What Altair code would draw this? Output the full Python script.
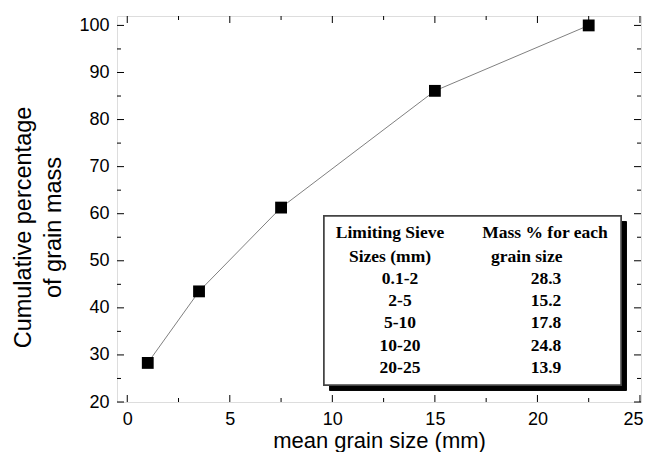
import altair as alt
import pandas as pd

# ---- data ----
mean_size = [1, 3.5, 7.5, 15, 22.5]
cumulative = [28.3, 43.5, 61.3, 86.1, 100.0]
sieve_ranges = ["0.1-2", "2-5", "5-10", "10-20", "20-25"]
mass_pct = ["28.3", "15.2", "17.8", "24.8", "13.9"]
x_major = [0, 5, 10, 15, 20, 25]
x_minor = [2.5, 7.5, 12.5, 17.5, 22.5]
y_major = [20, 30, 40, 50, 60, 70, 80, 90, 100]
y_minor = [25, 35, 45, 55, 65, 75, 85, 95]

# ---- layout ----
W, H = 524, 386
XDOM = [-0.5, 25.05]
YDOM = [20, 102]
MAJ, MIN = 7, 4
FONT = "Liberation Sans"
SERIF = "Liberation Serif"

xs = alt.Scale(domain=XDOM, nice=False, zero=False)
ys = alt.Scale(domain=YDOM, nice=False, zero=False)

pts = pd.DataFrame({"x": mean_size, "y": cumulative})

line = alt.Chart(pts).mark_line(color="#808080", strokeWidth=1).encode(
    x=alt.X("x:Q", scale=xs,
            axis=alt.Axis(values=x_major, ticks=False, domain=False, grid=False,
                          labelFont=FONT, labelFontSize=18, labelColor="#000",
                          labelPadding=8, labelFlush=4, labelFlushOffset=3,
                          title="mean grain size (mm)",
                          titleFont=FONT, titleFontSize=22, titleFontWeight="normal",
                          titleColor="#000", titleBaseline="alphabetic", titleY=45)),
    y=alt.Y("y:Q", scale=ys,
            axis=alt.Axis(values=y_major, ticks=False, domain=False, grid=False,
                          labelFont=FONT, labelFontSize=18, labelColor="#000",
                          labelPadding=8,
                          title=["Cumulative percentage", "of grain mass"],
                          titleFont=FONT, titleFontSize=23.5, titleFontWeight="normal",
                          titleColor="#000", titlePadding=13, titleLineHeight=30,
                          titleY=211)),
)
points = alt.Chart(pts).mark_square(size=140, color="#000", opacity=1).encode(
    x=alt.X("x:Q", scale=xs), y=alt.Y("y:Q", scale=ys)
)


def xticks(vals, length):
    d = pd.DataFrame({"x": vals})
    b = alt.Chart(d).mark_rule(color="#000", strokeWidth=1).encode(
        x=alt.X("x:Q", scale=xs), y=alt.value(H), y2=alt.value(H - length))
    t = alt.Chart(d).mark_rule(color="#000", strokeWidth=1).encode(
        x=alt.X("x:Q", scale=xs), y=alt.value(0), y2=alt.value(length))
    return [b, t]


def yticks(vals, length):
    d = pd.DataFrame({"y": vals})
    l = alt.Chart(d).mark_rule(color="#000", strokeWidth=1).encode(
        y=alt.Y("y:Q", scale=ys), x=alt.value(0), x2=alt.value(length))
    r = alt.Chart(d).mark_rule(color="#000", strokeWidth=1).encode(
        y=alt.Y("y:Q", scale=ys), x=alt.value(W), x2=alt.value(W - length))
    return [l, r]


tick_layers = xticks(x_major, MAJ) + xticks(x_minor, MIN) + yticks(y_major, MAJ) + yticks(y_minor, MIN)

# ---- inset table ----
BX0, BY0, BX1, BY1 = 207, 200, 504, 369
SH = 5.5
shadow = alt.Chart(pts).mark_rect(color="#000").encode(
    x=alt.value(BX0 + SH), x2=alt.value(BX1 + SH),
    y=alt.value(BY0 + SH), y2=alt.value(BY1 + SH))
box = alt.Chart(pts).mark_rect(fill="#fff", stroke="#444", strokeWidth=1.5).encode(
    x=alt.value(BX0), x2=alt.value(BX1), y=alt.value(BY0), y2=alt.value(BY1))

rows_y = [217, 241, 263, 285, 307, 330, 352]
cells = []
cells.append({"t": "Limiting Sieve", "px": 273, "py": rows_y[0], "a": "center"})
cells.append({"t": "Sizes (mm)", "px": 273, "py": rows_y[1], "a": "center"})
cells.append({"t": "Mass % for each", "px": 428, "py": rows_y[0], "a": "center"})
cells.append({"t": "grain size", "px": 374, "py": rows_y[1], "a": "left"})
for i, (r, m) in enumerate(zip(sieve_ranges, mass_pct)):
    cells.append({"t": r, "px": 283, "py": rows_y[i + 2], "a": "center"})
    cells.append({"t": m, "px": 429, "py": rows_y[i + 2], "a": "center"})
cdf = pd.DataFrame(cells)

txt_c = alt.Chart(cdf[cdf.a == "center"]).mark_text(
    font=SERIF, fontSize=17.5, fontWeight="bold", color="#000", align="center", baseline="middle"
).encode(x=alt.X("px:Q", scale=None, axis=None), y=alt.Y("py:Q", scale=None, axis=None), text="t:N")
txt_l = alt.Chart(cdf[cdf.a == "left"]).mark_text(
    font=SERIF, fontSize=17.5, fontWeight="bold", color="#000", align="left", baseline="middle"
).encode(x=alt.X("px:Q", scale=None, axis=None), y=alt.Y("py:Q", scale=None, axis=None), text="t:N")

chart = alt.layer(
    line, points, *tick_layers, shadow, box, txt_c, txt_l
).properties(
    width=W, height=H,
    autosize=alt.AutoSizeParams(type="none"),
    padding={"left": 109, "top": 8, "right": 3, "bottom": 50},
).configure_view(stroke="#000", strokeWidth=1.3).configure(background="white")

chart.save("out.html", embed_options={"renderer": "svg", "actions": False})
